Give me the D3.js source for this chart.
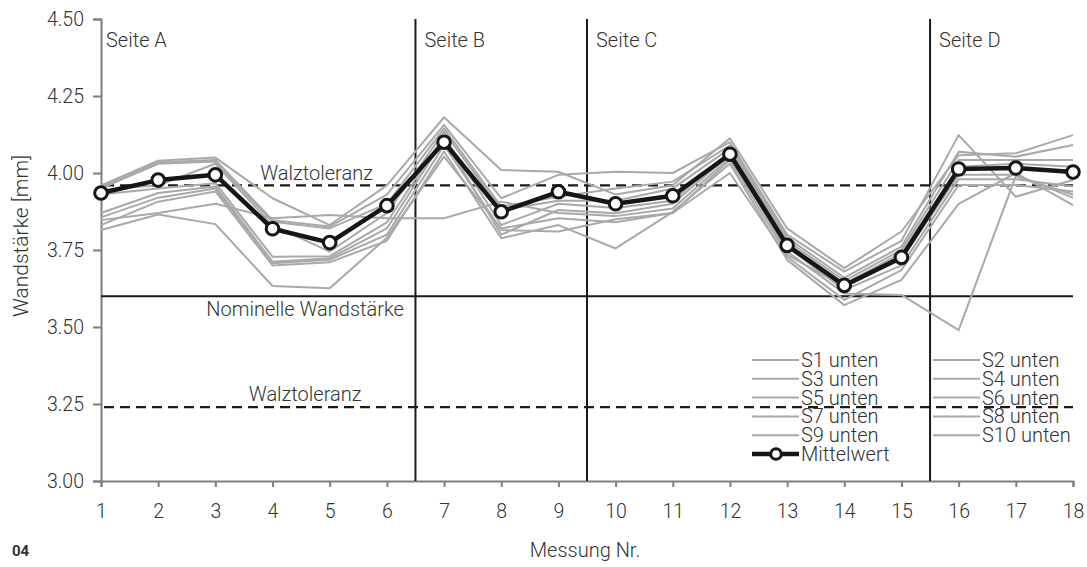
<!DOCTYPE html>
<html>
<head>
<meta charset="utf-8">
<script src="https://cdn.jsdelivr.net/npm/d3@7"></script>
<style>
body { margin: 0; background: #fff; }
svg text { font-family: Roboto, "DejaVu Sans", sans-serif; font-weight: 300; fill: #333; }
</style>
</head>
<body>
<svg id="chart"></svg>
<script>
// Messung Nr. 1..18
var messung = [1, 2, 3, 4, 5, 6, 7, 8, 9, 10, 11, 12, 13, 14, 15, 16, 17, 18]

var seriesNames = ["S1 unten", "S2 unten", "S3 unten", "S4 unten", "S5 unten",
                   "S6 unten", "S7 unten", "S8 unten", "S9 unten", "S10 unten"]

var s1  = [3.96, 4.04, 4.05, 3.918, 3.831, 3.96, 4.181, 4.01, 4.004, 3.93, 3.96, 4.113, 3.82, 3.691, 3.81, 4.058, 4.064, 4.123]
var s2  = [3.955, 4.035, 4.042, 3.847, 3.826, 3.93, 4.156, 3.918, 3.994, 4.004, 4.0, 4.10, 3.80, 3.68, 3.78, 4.123, 3.923, 3.977]
var s3  = [3.95, 4.03, 4.037, 3.842, 3.82, 3.90, 4.145, 3.891, 3.923, 3.95, 3.972, 4.09, 3.79, 3.66, 3.761, 4.069, 4.053, 4.091]
var s4  = [3.945, 3.96, 4.03, 3.83, 3.745, 3.87, 4.134, 3.88, 3.91, 3.91, 3.95, 4.08, 3.78, 3.65, 3.75, 4.042, 4.042, 4.042]
var s5  = [3.93, 3.95, 3.967, 3.728, 3.73, 3.84, 4.12, 3.831, 3.90, 3.886, 3.91, 4.07, 3.77, 3.64, 3.74, 4.02, 4.03, 4.02]
var s6  = [3.847, 3.87, 3.90, 3.853, 3.864, 3.853, 3.853, 3.907, 3.87, 3.86, 3.885, 4.05, 3.76, 3.62, 3.70, 3.98, 3.98, 3.956]
var s7  = [3.815, 3.865, 3.834, 3.633, 3.626, 3.79, 4.053, 3.82, 3.853, 3.84, 3.87, 4.0, 3.728, 3.588, 3.685, 3.961, 3.961, 3.94]
var s8  = [3.831, 3.907, 3.94, 3.70, 3.71, 3.78, 4.07, 3.788, 3.831, 3.755, 3.874, 4.03, 3.718, 3.571, 3.653, 3.90, 4.0, 3.896]
var s9  = [3.856, 3.92, 3.95, 3.707, 3.718, 3.80, 4.09, 3.815, 3.81, 3.85, 3.87, 4.042, 3.735, 3.63, 3.72, 3.994, 3.994, 3.92]
var s10 = [3.87, 3.935, 3.956, 3.712, 3.723, 3.82, 4.11, 3.80, 3.88, 3.869, 3.90, 4.06, 3.745, 3.609, 3.604, 3.49, 3.99, 3.93]

var mittelwert = [3.935, 3.977, 3.994, 3.819, 3.774, 3.894, 4.10, 3.874, 3.939, 3.90, 3.926, 4.061, 3.765, 3.635, 3.726, 4.013, 4.016, 4.003]

var yTicks = [3.00, 3.25, 3.50, 3.75, 4.00, 4.25, 4.50]

var sideNames = ["Seite A", "Seite B", "Seite C", "Seite D"]
var sideStarts = [1, 6.5, 9.5, 15.5]

var nominell = 3.60
var walztoleranz = [3.96, 3.24]

var allSeries = [s1, s2, s3, s4, s5, s6, s7, s8, s9, s10]

var screen = {width: 1087, height: 567}
var margins = {top: 19, right: 14, bottom: 86, left: 101}
var width = screen.width - margins.left - margins.right
var height = screen.height - margins.top - margins.bottom

var svg = d3.select("#chart")
    .attr("width", screen.width)
    .attr("height", screen.height)

var xScale = d3.scaleLinear().domain([1, 18]).range([0, width])
var yScale = d3.scaleLinear().domain([3, 4.5]).range([height, 0])

var graph = svg.append("g")
    .attr("transform", "translate(" + margins.left + "," + margins.top + ")")

// axes
var xAxis = d3.axisBottom(xScale).tickValues(messung).tickSize(6).tickPadding(17).tickFormat(d3.format("d"))
var yAxis = d3.axisLeft(yScale).tickValues(yTicks).tickSize(8).tickPadding(9).tickFormat(d3.format(".2f"))

var gx = graph.append("g")
    .attr("transform", "translate(0," + height + ")")
    .call(xAxis)
var gy = graph.append("g").call(yAxis)

;[gx, gy].forEach(function(g) {
    g.select(".domain").attr("stroke", "#7f7f7f").attr("stroke-width", 2)
    g.selectAll(".tick line").attr("stroke", "#7f7f7f").attr("stroke-width", 2)
    g.selectAll(".tick text")
        .style("font-size", "19.5px")
        .style("font-family", "Roboto, 'DejaVu Sans', sans-serif")
        .style("font-weight", 300)
        .attr("fill", "#333")
})

// reference lines
graph.append("line")
    .attr("x1", 0).attr("x2", width)
    .attr("y1", yScale(nominell)).attr("y2", yScale(nominell))
    .attr("stroke", "#1a1a1a").attr("stroke-width", 2)

graph.selectAll(".tol")
    .data(walztoleranz)
    .enter()
    .append("line")
    .attr("x1", 3).attr("x2", width)
    .attr("y1", function(d) { return yScale(d) })
    .attr("y2", function(d) { return yScale(d) })
    .attr("stroke", "#1a1a1a").attr("stroke-width", 2.2)
    .attr("stroke-dasharray", "10,6")

// side separators
graph.selectAll(".sep")
    .data(sideStarts.slice(1))
    .enter()
    .append("line")
    .attr("x1", function(d) { return xScale(d) })
    .attr("x2", function(d) { return xScale(d) })
    .attr("y1", 0).attr("y2", height)
    .attr("stroke", "#1a1a1a").attr("stroke-width", 2)

graph.selectAll(".side")
    .data(sideNames)
    .enter()
    .append("text")
    .attr("x", function(d, i) { return xScale(sideStarts[i]) + (i == 0 ? 5 : 9) })
    .attr("y", 28)
    .style("font-size", "20px")
    .text(function(d) { return d })

// labels on reference lines
graph.append("text")
    .attr("x", xScale(4.77)).attr("y", yScale(walztoleranz[0]) - 5)
    .attr("text-anchor", "middle").style("font-size", "20px")
    .text("Walztoleranz")
graph.append("text")
    .attr("x", xScale(4.57)).attr("y", yScale(walztoleranz[1]) - 6)
    .attr("text-anchor", "middle").style("font-size", "20px")
    .text("Walztoleranz")
graph.append("text")
    .attr("x", xScale(4.57)).attr("y", yScale(nominell) + 20)
    .attr("text-anchor", "middle").style("font-size", "20px")
    .text("Nominelle Wandstärke")

// gray single series
var line = d3.line()
    .x(function(d, i) { return xScale(messung[i]) })
    .y(function(d) { return yScale(d) })

graph.selectAll(".series")
    .data(allSeries)
    .enter()
    .append("path")
    .attr("d", line)
    .attr("fill", "none")
    .attr("stroke", "#a9a9a9")
    .attr("stroke-width", 2)
    .attr("stroke-linejoin", "round")

// mean line
graph.append("path")
    .attr("d", line(mittelwert))
    .attr("fill", "none")
    .attr("stroke", "#161616")
    .attr("stroke-width", 4.5)
    .attr("stroke-linejoin", "round")

graph.selectAll(".meanDot")
    .data(mittelwert)
    .enter()
    .append("circle")
    .attr("cx", function(d, i) { return xScale(messung[i]) })
    .attr("cy", function(d) { return yScale(d) })
    .attr("r", 6.3)
    .attr("fill", "#fff")
    .attr("stroke", "#161616")
    .attr("stroke-width", 3)

// legend, two columns, rows set tight as in the print
var legend = svg.append("g")
var rowH = 18.8
var legendItems = legend.selectAll(".leg")
    .data(seriesNames)
    .enter()
    .append("g")
    .attr("transform", function(d, i) {
        var col = i % 2
        var row = Math.floor(i / 2)
        return "translate(" + (752 + col * 181) + "," + (360 + row * rowH) + ")"
    })
legendItems.append("line")
    .attr("x1", 0).attr("x2", 47)
    .attr("stroke", "#a9a9a9").attr("stroke-width", 2)
legendItems.append("text")
    .attr("x", 49).attr("y", 7)
    .style("font-size", "20px")
    .text(function(d) { return d })

var meanLeg = legend.append("g")
    .attr("transform", "translate(752," + (360 + 5 * rowH) + ")")
meanLeg.append("line")
    .attr("x1", 0).attr("x2", 47)
    .attr("stroke", "#161616").attr("stroke-width", 4.5)
meanLeg.append("circle")
    .attr("cx", 24).attr("r", 5.3)
    .attr("fill", "#fff").attr("stroke", "#161616").attr("stroke-width", 3)
meanLeg.append("text")
    .attr("x", 49).attr("y", 7)
    .style("font-size", "20px")
    .text("Mittelwert")

// axis titles
svg.append("text")
    .attr("transform", "translate(28," + 236 + ") rotate(-90)")
    .attr("text-anchor", "middle")
    .style("font-size", "21px")
    .text("Wandstärke [mm]")

svg.append("text")
    .attr("x", 585).attr("y", 557)
    .attr("text-anchor", "middle")
    .style("font-size", "20px")
    .text("Messung Nr.")

svg.append("text")
    .attr("x", 12).attr("y", 556)
    .style("font-size", "15px")
    .style("font-weight", 700)
    .attr("fill", "#555")
    .text("04")
</script>
</body>
</html>
